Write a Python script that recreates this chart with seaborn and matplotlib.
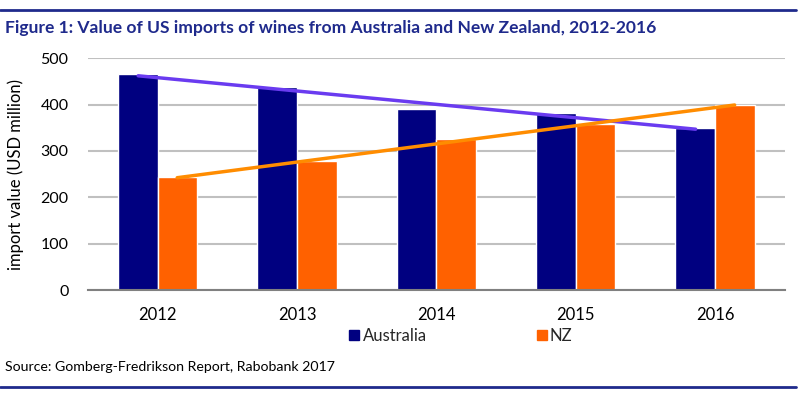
import numpy as np
import pandas as pd
import matplotlib.pyplot as plt
from matplotlib.lines import Line2D
import seaborn as sns

# dados (USD milhões)
anos = ['2012', '2013', '2014', '2015', '2016']
australia = [465, 437, 390, 381, 349]
nz = [243, 278, 325, 358, 399]

cor_aus = '#000080'
cor_nz = '#FF6100'
cor_trend_aus = '#6A3BF0'
cor_trend_nz = '#FF8C00'
azul_titulo = '#1F2A8C'

sns.set_style('white')
plt.rcParams['font.family'] = ['Lato', 'DejaVu Sans']

df = pd.DataFrame({
    'ano': anos * 2,
    'valor': australia + nz,
    'pais': ['Australia'] * len(anos) + ['NZ'] * len(anos),
})

fig = plt.figure(figsize=(8, 3.93), dpi=100)
ax = fig.add_axes([0.11, 0.262, 0.871, 0.590])

ax.yaxis.grid(True, color='#c0c0c0', linewidth=1.5, zorder=0)
ax.set_axisbelow(True)

sns.barplot(data=df, x='ano', y='valor', hue='pais', palette=[cor_aus, cor_nz],
            width=0.57, edgecolor='white', linewidth=1, saturation=1,
            legend=False, ax=ax, zorder=2)

# linhas de tendência (regressão linear)
x = np.arange(len(anos))
for vals, off, cor in [(australia, -0.14, cor_trend_aus), (nz, 0.14, cor_trend_nz)]:
    a, b = np.polyfit(x, vals, 1)
    ax.plot(x + off, a * x + b, color=cor, linewidth=2.5, zorder=3)

ax.set_ylim(0, 500)
ax.set_xlim(-0.5, 4.5)
ax.set_yticks(range(0, 501, 100))
ax.set_xlabel('')
ax.set_ylabel('import value (USD million)', fontsize=12, color='#000000', labelpad=12)
ax.tick_params(axis='both', labelsize=11.5, length=0, colors='#000000')
ax.tick_params(axis='x', pad=12, labelsize=12)
ax.tick_params(axis='y', pad=14)
for s in ['top', 'right', 'left']:
    ax.spines[s].set_visible(False)
ax.spines['bottom'].set_color('#808080')
ax.spines['bottom'].set_linewidth(1.5)

handles = [Line2D([], [], marker='s', linestyle='', color=cor_aus, markersize=7),
           Line2D([], [], marker='s', linestyle='', color=cor_nz, markersize=7)]
fig.legend(handles, ['Australia', 'NZ'], loc='center', bbox_to_anchor=(0.575, 0.145),
           ncol=2, frameon=False, fontsize=12, handletextpad=0.1, columnspacing=6.5,
           handlelength=0.8)

# título, fonte e linhas decorativas
fig.text(0.006, 0.93, 'Figure 1: Value of US imports of wines from Australia and New Zealand, 2012-2016',
         fontsize=12.6, fontweight='bold', color=azul_titulo, va='center')
fig.text(0.006, 0.065, 'Source: Gomberg-Fredrikson Report, Rabobank 2017',
         fontsize=10.2, color='#000000', va='center')
fig.add_artist(Line2D([0.0, 0.995], [0.975, 0.975], color=azul_titulo, linewidth=2))
fig.add_artist(Line2D([0.0, 0.995], [0.015, 0.015], color=azul_titulo, linewidth=2))

fig.savefig('out.png', dpi=100)
